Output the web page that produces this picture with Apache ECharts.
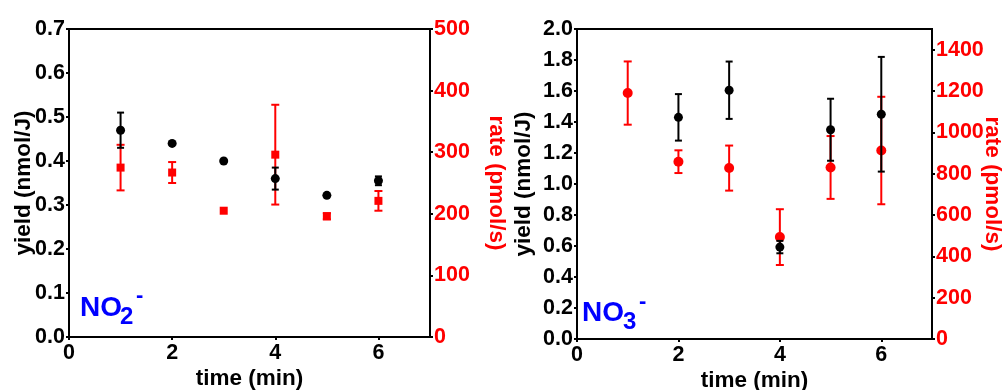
<!DOCTYPE html>
<html>
<head>
<meta charset="utf-8">
<script src="https://cdn.jsdelivr.net/npm/echarts@6/dist/echarts.min.js"></script>
<style>html,body{margin:0;padding:0;background:#fff;}#c{width:1003px;height:390px;}</style>
</head>
<body>
<div id="c"></div>
<script>
// ---- data ----
var time = [1, 2, 3, 4, 5, 6];
var no2Yield    = [0.47, 0.44, 0.40, 0.36, 0.322, 0.355];
var no2YieldErr = [0.04, 0, 0, 0.025, 0, 0.01];
var no2Rate     = [275, 267, 205, 296, 196, 221];
var no2RateErr  = [37, 17, 0, 81, 5, 16];
var no3Yield    = [null, 1.43, 1.605, 0.593, 1.35, 1.45];
var no3YieldErr = [null, 0.15, 0.185, 0.04, 0.2, 0.37];
var no3Rate     = [1190, 858, 827, 493, 830, 912];
var no3RateErr  = [153, 55, 109, 135, 152, 260];
var xTicks = [0, 2, 4, 6];

var FONT = '"Liberation Sans", Arial, Helvetica, sans-serif';
var RED = '#ff0000', BLACK = '#000000', BLUE = '#0000ff';

function pts(v) { return time.map(function (t, i) { return v[i] == null ? null : [t, v[i]]; }).filter(Boolean); }
function errs(v, e) {
  return time.map(function (t, i) { return v[i] == null ? null : [t, v[i] - e[i], v[i] + e[i]]; })
    .filter(function (d) { return d && d[2] > d[1]; });
}
function errRender(color, capW) {
  return function (params, api) {
    var x = api.value(0), lo = api.value(1), hi = api.value(2);
    var a = api.coord([x, lo]), b = api.coord([x, hi]);
    var w = capW / 2, st = { stroke: color, lineWidth: 2 };
    return { type: 'group', children: [
      { type: 'line', shape: { x1: a[0], y1: a[1], x2: b[0], y2: b[1] }, style: st },
      { type: 'line', shape: { x1: a[0] - w, y1: a[1], x2: a[0] + w, y2: a[1] }, style: st },
      { type: 'line', shape: { x1: b[0] - w, y1: b[1], x2: b[0] + w, y2: b[1] }, style: st }
    ] };
  };
}

function xAx(g) {
  return {
    type: 'value', gridIndex: g, min: 0, max: 7, interval: 2,
    axisLine: { lineStyle: { color: BLACK, width: 2 } },
    axisTick: { length: 3, lineStyle: { color: BLACK, width: 2 } },
    axisLabel: { showMaxLabel: false, margin: 5, color: BLACK, fontSize: 21.5, fontWeight: 'bold', fontFamily: FONT,
      formatter: function (v) { return xTicks.indexOf(v) >= 0 ? String(v) : ''; } },
    splitLine: { show: false },
    name: 'time (min)', nameLocation: 'middle', nameGap: 30, nameMoveOverlap: false,
    nameTextStyle: { color: BLACK, fontSize: 22.5, fontWeight: 'bold', fontFamily: FONT }
  };
}
function yAx(g, pos, max, interval, dec, color, name, gap, showMax) {
  return {
    type: 'value', gridIndex: g, position: pos, min: 0, max: max, interval: interval,
    axisLine: { show: true, lineStyle: { color: BLACK, width: 2 } },
    axisTick: { show: true, length: 3, lineStyle: { color: BLACK, width: 2 } },
    axisLabel: { showMaxLabel: showMax, margin: 4, color: color, fontSize: 21.5, fontWeight: 'bold', fontFamily: FONT,
      formatter: function (v) { return v.toFixed(dec); } },
    splitLine: { show: false },
    name: name, nameLocation: 'middle', nameGap: gap, nameMoveOverlap: false, nameRotate: pos === 'left' ? 90 : -90,
    nameTextStyle: { color: color, fontSize: 22.5, fontWeight: 'bold', fontFamily: FONT }
  };
}
function txt(x, y, s, size) {
  return { type: 'text', x: x, y: y, z: 100, style: { text: s, fill: BLUE, fontSize: size, fontWeight: 'bold', fontFamily: FONT,
    align: 'left', verticalAlign: 'middle', textAlign: 'left', textVerticalAlign: 'middle' } };
}

var chart = echarts.init(document.getElementById('c'), null, { renderer: 'canvas' });
chart.setOption({
  animation: false,
  backgroundColor: '#fff',
  grid: [
    { left: 69, right: 573, top: 29, bottom: 53, outerBoundsMode: 'none', containLabel: false, show: true, borderColor: BLACK, borderWidth: 2, backgroundColor: 'transparent' },
    { left: 577, right: 71, top: 29, bottom: 51, outerBoundsMode: 'none', containLabel: false, show: true, borderColor: BLACK, borderWidth: 2, backgroundColor: 'transparent' }
  ],
  xAxis: [xAx(0), xAx(1)],
  yAxis: [
    yAx(0, 'left', 0.7, 0.1, 1, BLACK, 'yield (nmol/J)', 34, true),
    yAx(0, 'right', 500, 100, 0, RED, 'rate (pmol/s)', 55, true),
    yAx(1, 'left', 2.0, 0.2, 1, BLACK, 'yield (nmol/J)', 42, true),
    yAx(1, 'right', 1500, 200, 0, RED, 'rate (pmol/s)', 49, false)
  ],
  graphic: [
    txt(80, 308, 'NO', 28), txt(120, 317, '2', 24), txt(136, 296, '-', 22),
    txt(582, 313, 'NO', 28), txt(623, 322, '3', 24), txt(639, 302, '-', 22)
  ],
  series: [
    { type: 'custom', xAxisIndex: 0, yAxisIndex: 1, data: errs(no2Rate, no2RateErr), renderItem: errRender(RED, 8), z: 2 },
    { type: 'scatter', xAxisIndex: 0, yAxisIndex: 1, data: pts(no2Rate), symbol: 'rect', symbolSize: 8, itemStyle: { color: RED, opacity: 1 }, z: 3 },
    { type: 'custom', xAxisIndex: 0, yAxisIndex: 0, data: errs(no2Yield, no2YieldErr), renderItem: errRender(BLACK, 7), z: 4 },
    { type: 'scatter', xAxisIndex: 0, yAxisIndex: 0, data: pts(no2Yield), symbol: 'circle', symbolSize: 9, itemStyle: { color: BLACK, opacity: 1 }, z: 5 },

    { type: 'custom', xAxisIndex: 1, yAxisIndex: 3, data: errs(no3Rate, no3RateErr), renderItem: errRender(RED, 8), z: 2 },
    { type: 'scatter', xAxisIndex: 1, yAxisIndex: 3, data: pts(no3Rate), symbol: 'circle', symbolSize: 10, itemStyle: { color: RED, opacity: 1 }, z: 3 },
    { type: 'custom', xAxisIndex: 1, yAxisIndex: 2, data: errs(no3Yield, no3YieldErr), renderItem: errRender(BLACK, 7), z: 4 },
    { type: 'scatter', xAxisIndex: 1, yAxisIndex: 2, data: pts(no3Yield), symbol: 'circle', symbolSize: 9, itemStyle: { color: BLACK, opacity: 1 }, z: 5 }
  ]
});
</script>
</body>
</html>
